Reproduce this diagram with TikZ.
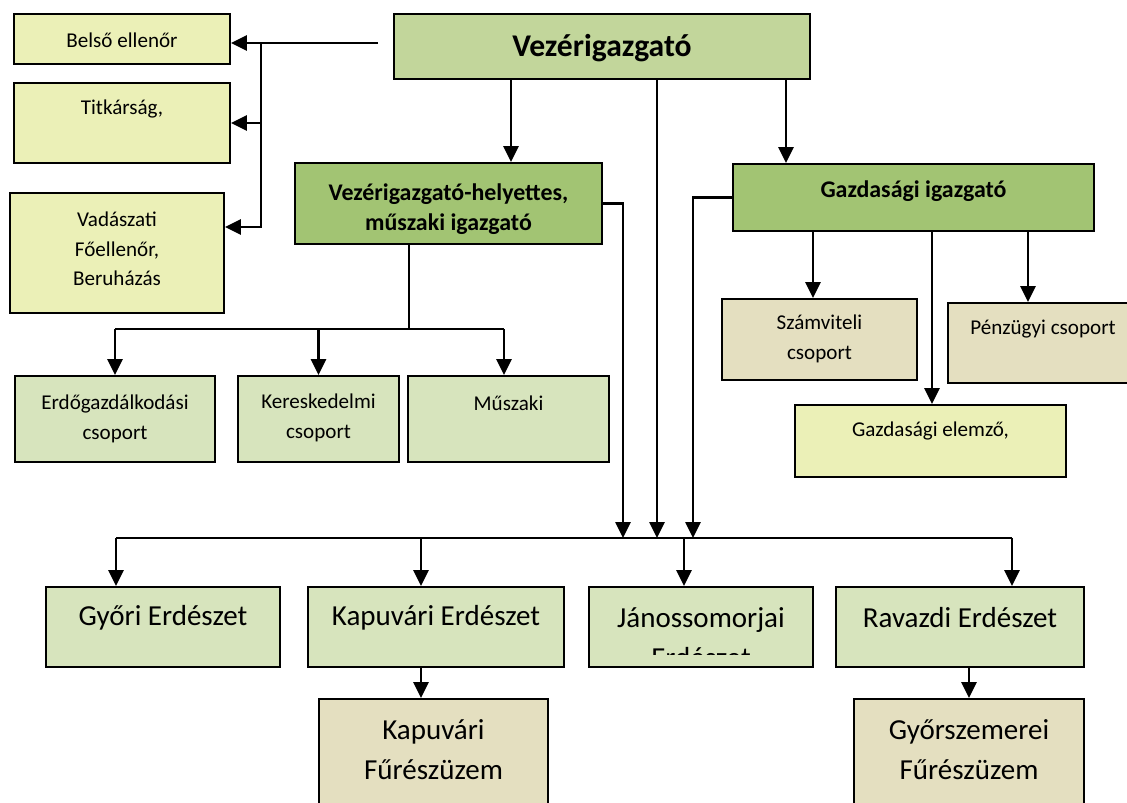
\documentclass[tikz,border=0pt]{standalone}
\usepackage{fontspec}
\setmainfont{Carlito}
\usepackage{xcolor}
\usetikzlibrary{arrows.meta,calc,positioning}

\definecolor{yellowbox}{HTML}{EBF0B7}
\definecolor{tanbox}{HTML}{E4DFC0}
\definecolor{palegreen}{HTML}{D7E4BD}
\definecolor{midgreen}{HTML}{C2D69B}
\definecolor{darkgreen}{HTML}{A2C473}

\begin{document}
\begin{tikzpicture}[x=0.02cm, y=-0.02cm,
    box/.style={draw, line width=1.1pt, inner sep=0pt},
    arr/.style={line width=1.3pt, -{Triangle[length=9pt, width=8.5pt]}},
    thinline/.style={line width=0.9pt},
    txt/.style={font=\fontsize{12}{17}\selectfont, align=center},
    big/.style={font=\fontsize{16.5}{22.7}\selectfont, align=center},
    boss/.style={font=\fontsize{13.6}{17}\selectfont\bfseries, align=center}]

    \clip (0,0) rectangle (1127,803);
    \fill[white] (0,0) rectangle (1127,803);

    % Staff of the director
    \node [box, fill=yellowbox, minimum width=4.32cm, minimum height=1cm] (belso) at (122,39) {};
    \node [txt] (belso-t) at (122,40) {Belső ellenőr};
    \node [box, fill=yellowbox, minimum width=4.32cm, minimum height=1.6cm] (titkar) at (122,123) {};
    \node [txt] (titkar-t) at (122,109) {Titkárság,};
    \node [box, fill=yellowbox, minimum width=4.28cm, minimum height=2.4cm] (vadasz) at (117,253) {};
    \node [txt, font=\fontsize{12}{16.7}\selectfont] (vadasz-t) at (117,249) {Vadászati\\Főellenőr,\\Beruházás};

    % Management
    \node [box, fill=midgreen, minimum width=8.32cm, minimum height=1.3cm] (vezer) at (602,46.5) {};
    \node [font=\fontsize{18}{22}\selectfont\bfseries] (vezer-t) at (602,48) {Vezérigazgató};
    \node [box, fill=darkgreen, minimum width=6.14cm, minimum height=1.62cm] (helyettes) at (448.5,203.5) {};
    \node [boss] (helyettes-t) at (448.5,209) {Vezérigazgató-helyettes,\\műszaki igazgató};
    \node [box, fill=darkgreen, minimum width=7.22cm, minimum height=1.34cm] (gazd) at (913.5,197.5) {};
    \node [boss] (gazd-t) at (913.5,191) {Gazdasági igazgató};

    % Groups
    \node [box, fill=tanbox, minimum width=3.9cm, minimum height=1.62cm] (szamv) at (819.5,339.5) {};
    \node [txt] (szamv-t) at (819.5,339) {Számviteli\\csoport};
    \node [box, fill=tanbox, minimum width=3.8cm, minimum height=1.6cm] (penz) at (1043,343) {};
    \node [txt] (penz-t) at (1043,329) {Pénzügyi csoport};
    \node [box, fill=yellowbox, minimum width=5.42cm, minimum height=1.44cm] (elemzo) at (930.5,441) {};
    \node [txt] (elemzo-t) at (930.5,431) {Gazdasági elemző,};
    \node [box, fill=palegreen, minimum width=4cm, minimum height=1.72cm] (erdo) at (115,419) {};
    \node [txt] (erdo-t) at (115,419) {Erdőgazdálkodási\\csoport};
    \node [box, fill=palegreen, minimum width=3.22cm, minimum height=1.72cm] (keresk) at (318.5,419) {};
    \node [txt] (keresk-t) at (318.5,418) {Kereskedelmi\\csoport};
    \node [box, fill=palegreen, minimum width=4.02cm, minimum height=1.72cm] (muszaki) at (508.5,419) {};
    \node [txt] (muszaki-t) at (508.5,403) {Műszaki};

    % Forestry units
    \node [box, fill=palegreen, minimum width=4.68cm, minimum height=1.6cm] (gyori) at (163,627) {};
    \node [big] (gyori-t) at (163,618) {Győri Erdészet};
    \node [box, fill=palegreen, minimum width=5.12cm, minimum height=1.6cm] (kapuv) at (436,627) {};
    \node [big] (kapuv-t) at (436,618) {Kapuvári Erdészet};
    \node [box, fill=palegreen, minimum width=4.48cm, minimum height=1.6cm] (janos) at (701,627) {};
    \begin{scope}
        \clip (589,587) rectangle (813,655);
        \node [big] (janos-t) at (701,638) {Jánossomorjai\\Erdészet};
    \end{scope}
    \node [box, fill=palegreen, minimum width=4.96cm, minimum height=1.6cm] (ravazdi) at (960,627) {};
    \node [big] (ravazdi-t) at (960,618) {Ravazdi Erdészet};
    \node [box, fill=tanbox, minimum width=4.58cm, minimum height=3.22cm] (kapfur) at (433.5,779.5) {};
    \node [big] (kapfur-t) at (433.5,750) {Kapuvári\\Fűrészüzem};
    \node [box, fill=tanbox, minimum width=4.6cm, minimum height=3.22cm] (gyorfur) at (969,779.5) {};
    \node [big] (gyorfur-t) at (969,750) {Győrszemerei\\Fűrészüzem};

    % Left staff line
    \coordinate (feed) at (378,43);
    \coordinate (staff) at (261,43);
    \draw [arr] (feed) -- (feed -| belso.east);
    \draw [arr] (staff) |- (titkar.east);
    \draw [arr] (staff) |- ($(vadasz.east)+(0,-26)$);

    % From the director
    \coordinate (busL) at (116,538);
    \coordinate (busR) at (1012,538);
    \draw [arr] (vezer.south -| 511,0) -- (helyettes.north -| 511,0);
    \draw [arr] (vezer.south -| 786,0) -- (gazd.north -| 786,0);
    \draw [arr] (vezer.south -| 657,0) -- (busL -| 657,0);
    \draw [arr] (helyettes.east) -| (busL -| 623,0);
    \draw [arr] (gazd.west) -| (busL -| 693,0);

    % Groups under the deputy
    \coordinate (grp) at (409,329);
    \draw [thinline] (helyettes.south -| grp) -- (grp);
    \draw [arr, -] (grp -| erdo.north) -- (grp -| 504,0);
    \draw [arr] (grp -| erdo.north) -- (erdo.north);
    \draw [arr] (grp -| keresk.north) -- (keresk.north);
    \draw [arr] (grp -| 504,0) -- (muszaki.north -| 504,0);

    % Groups under the economic director
    \draw [arr] (gazd.south -| 813,0) -- (szamv.north -| 813,0);
    \draw [arr] (gazd.south -| 932,0) -- (elemzo.north -| 932,0);
    \draw [arr] (gazd.south -| 1028,0) -- (penz.north -| 1028,0);

    % Bus to the forestry units
    \draw [thinline] (busL) -- (busR);
    \draw [arr] (busL) -- (busL |- gyori.north);
    \draw [arr] (busL -| 421,0) -- (kapuv.north -| 421,0);
    \draw [arr] (busL -| 684,0) -- (janos.north -| 684,0);
    \draw [arr] (busR) -- (busR |- ravazdi.north);
    \draw [arr] (kapuv.south -| 421,0) -- (kapfur.north -| 421,0);
    \draw [arr] (ravazdi.south -| gyorfur.north) -- (gyorfur.north);
\end{tikzpicture}
\end{document}
